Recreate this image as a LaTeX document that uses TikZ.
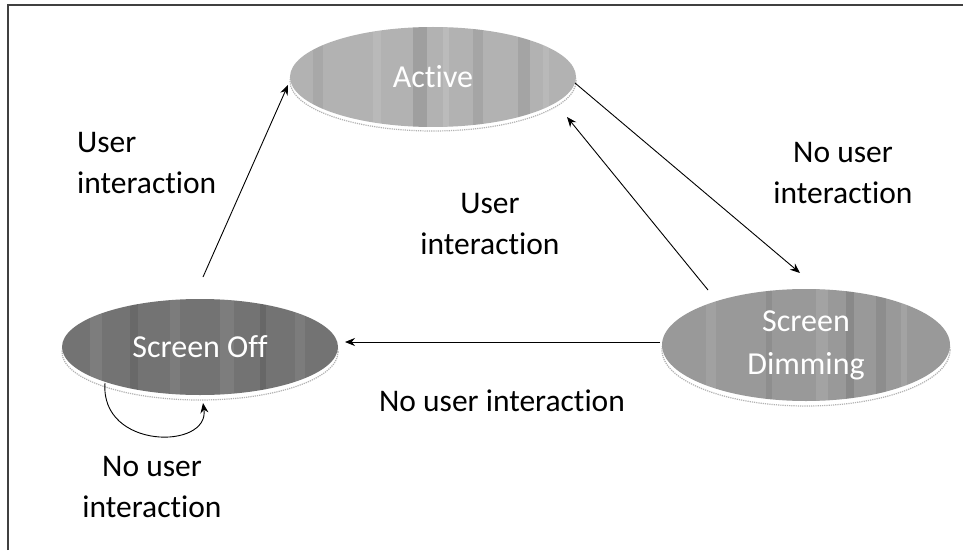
\documentclass[tikz,border=0pt]{standalone}
\usepackage{fontspec}
\setmainfont{Carlito}[Ligatures=NoCommon]
\usetikzlibrary{shapes.geometric,arrows.meta,calc}

\begin{document}
\begin{tikzpicture}[x=1pt,y=1pt,
  state/.style={ellipse, inner sep=0pt, text=white,
    font=\fontsize{32}{43}\selectfont, align=center},
  rim/.style={draw=black!30, line width=1.2pt, densely dotted},
  lbl/.style={font=\fontsize{31.5}{41}\selectfont, align=center, inner sep=0pt},
  conn/.style={-{Stealth[length=10pt,width=8pt]}, line width=0.9pt},
  stripes/.style={path picture={
    \foreach \p/\w/\c/\o in {#1}
      \fill[\c, opacity=\o]
        ($(path picture bounding box.south)+(\p,0)$) rectangle
        ($(path picture bounding box.north)+(\p+\w,0)$);
  }},
]
\useasboundingbox (0,0) rectangle (963,550);
\fill[white] (0,0) rectangle (963,550);
% frame (top and left edges only)
\draw[line width=1.3pt, black!75] (8,0) -- (8,545) -- (963,545);

% centres of the three states
\coordinate (cA) at (433,473);
\coordinate (cO) at (200,203);
\coordinate (cD) at (806,205);

% light rims under the states
\draw[rim] ($(cA)+(0,-4)$) ellipse [x radius=143, y radius=50];
\draw[rim] ($(cO)+(0,-5)$) ellipse [x radius=138, y radius=48];
\draw[rim] ($(cD)+(0,-5)$) ellipse [x radius=144, y radius=56];

% states
\node[state, fill=black!30, minimum width=286, minimum height=100,
  stripes={-120/10/black/0.05, -60/8/white/0.1, -20/14/black/0.1,
           10/6/white/0.12, 40/10/black/0.07, 85/12/black/0.08,
           110/6/white/0.1}]
  (act) at (cA) {Active};
\node[state, fill=black!55, minimum width=276, minimum height=96,
  stripes={-110/12/white/0.08, -70/8/black/0.08, -30/10/white/0.07,
           20/14/white/0.08, 60/6/black/0.1, 95/10/white/0.07}]
  (off) at (cO) {Screen Off};
\node[state, fill=black!40, minimum width=288, minimum height=112,
  stripes={-100/10/white/0.08, -40/6/black/0.07, 10/12/white/0.1,
           40/8/black/0.1, 70/10/black/0.08, 95/6/white/0.1}]
  (dim) at (cD) {Screen\\Dimming};

% transitions
\draw[conn] ($(off.center)+(3,70)$) -- ($(act.center)+(-145,-8)$);
\draw[conn] ($(act.center)+(142,-6)$) -- ($(dim.center)+(-6,72)$);
\draw[conn] ($(dim.center)+(-98,55)$) -- ($(act.center)+(134,-40)$);
\draw[conn] ($(dim.center)+(-146,3)$) -- ($(off.center)+(145,5)$);
\draw[conn] ($(off.center)+(-95,-36)$)
  .. controls ($(off.center)+(-100,-103)$) and ($(off.center)+(10,-103)$)
  .. ($(off.center)+(3,-56)$);

% transition labels
\node[lbl, align=left, anchor=west] (l1) at (77,387) {User\\interaction};
\node[lbl] (l2) at (490,326) {User\\interaction};
\node[lbl] (l3) at (843,377) {No user\\interaction};
\node[lbl] (l4) at (502,149) {No user interaction};
\node[lbl] (l5) at (152,63) {No user\\interaction};
\end{tikzpicture}
\end{document}
